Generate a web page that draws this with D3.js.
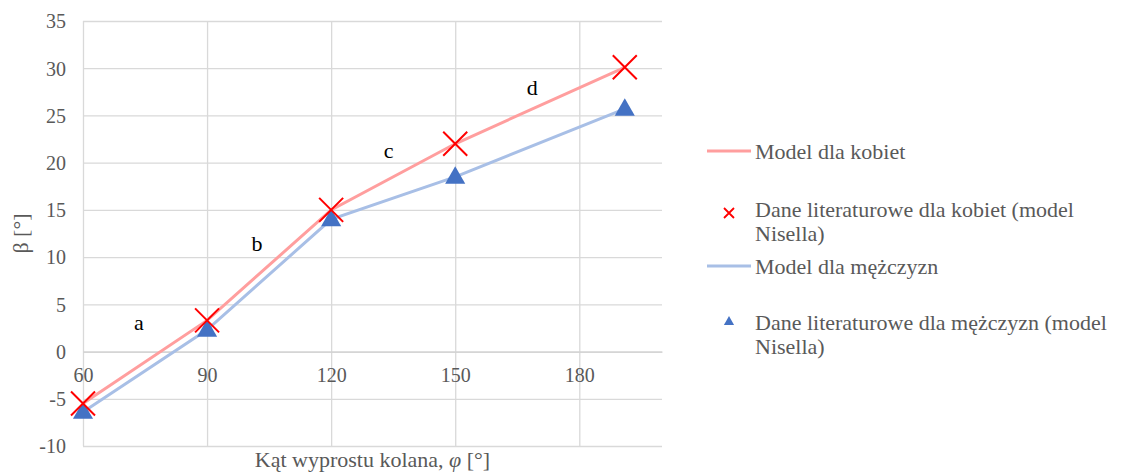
<!DOCTYPE html>
<html><head><meta charset="utf-8">
<script src="https://cdn.jsdelivr.net/npm/d3@7"></script>
<style>
html,body{margin:0;padding:0;background:#fff;}
svg{display:block;}
svg text{font-family:"Liberation Serif","DejaVu Serif",serif !important;}
</style></head>
<body><svg id="chart" width="1133" height="473"></svg>
<script>
// ---- data ----
const angles = [60, 90, 120, 150, 191];
const modelWomen = [-5.5, 3.3, 15.0, 22.0, 30.1];
const litWomen = [-5.5, 3.3, 15.0, 22.0, 30.1];
const modelMen = [-6.4, 2.3, 14.0, 18.5, 25.7];
const litMen = [-6.4, 2.3, 14.0, 18.5, 25.7];
const xTicks = [60, 90, 120, 150, 180];
const yTicks = [-10, -5, 0, 5, 10, 15, 20, 25, 30, 35];
const annLabels = ["a", "b", "c", "d"];
const annX = [73.5, 102.1, 133.9, 168.6];
const annY = [2.3, 10.7, 20.45, 27.2];
const legendLabels = [
  ["Model dla kobiet"],
  ["Dane literaturowe dla kobiet (model", "Nisella)"],
  ["Model dla mężczyzn"],
  ["Dane literaturowe dla mężczyzn (model", "Nisella)"]
];

// ---- layout ----
const FONT = "Liberation Serif";
const svg = d3.select("#chart");
const L = 83, R = 662, T = 21, B = 446;
const x = d3.scaleLinear().domain([60, 200]).range([L, R]);
const y = d3.scaleLinear().domain([-10, 35]).range([B, T]);
const grid = "#d9d9d9", txt = "#595959";
const redLine = "#ff9e9e", blueLine = "#a8bfe6", red = "#ff0000", blue = "#4472c4";

// gridlines
const yAxis = d3.axisLeft(y).tickValues(yTicks).tickSize(-(R - L)).tickFormat(d => d < 0 ? "-" + Math.abs(d) : d);
const gy = svg.append("g").attr("transform", `translate(${L},0)`).call(yAxis).attr("font-family", FONT);
gy.select(".domain").remove();
gy.selectAll(".tick line").attr("stroke", grid).attr("stroke-width", 1.3);
gy.selectAll(".tick text").attr("x", -17).attr("dy", "0.34em").attr("fill", txt)
  .attr("font-size", 20).attr("font-family", FONT);

const xGrid = d3.axisBottom(x).tickValues(xTicks).tickSize(-(B - T)).tickFormat("");
const gxg = svg.append("g").attr("transform", `translate(0,${B})`).call(xGrid);
gxg.select(".domain").remove();
gxg.selectAll(".tick line").attr("stroke", grid).attr("stroke-width", 1.3);

// x-axis at zero
const xAxis = d3.axisBottom(x).tickValues(xTicks).tickSize(0);
const gx = svg.append("g").attr("transform", `translate(0,${y(0)})`).call(xAxis).attr("font-family", FONT);
gx.select(".domain").attr("stroke", "#d0d0d0").attr("stroke-width", 1.3);
gx.selectAll(".tick text").attr("y", 30).attr("dy", 0).attr("fill", txt)
  .attr("font-size", 20).attr("font-family", FONT);

// axis titles
const xt = svg.append("text").attr("x", (L + R) / 2).attr("y", 467).attr("text-anchor", "middle")
  .attr("fill", txt).attr("font-size", 22).attr("font-family", FONT);
xt.append("tspan").text("Kąt wyprostu kolana, ");
xt.append("tspan").attr("font-style", "italic").text("φ");
xt.append("tspan").text(" [°]");

svg.append("text").attr("transform", `translate(28,${(T + B) / 2}) rotate(-90)`).attr("text-anchor", "middle")
  .attr("fill", txt).attr("font-size", 22).attr("font-family", FONT).text("β [°]");

// lines
const line = d3.line().x(d => x(d[0])).y(d => y(d[1]));
svg.append("path").datum(angles.map((a, i) => [a, modelWomen[i]])).attr("d", line)
  .attr("fill", "none").attr("stroke", redLine).attr("stroke-width", 3);
svg.append("path").datum(angles.map((a, i) => [a, modelMen[i]])).attr("d", line)
  .attr("fill", "none").attr("stroke", blueLine).attr("stroke-width", 3);

// markers
const tri = d3.symbol().type(d3.symbolTriangle).size(175);
svg.append("g").selectAll("path").data(angles.map((a, i) => [a, litMen[i]])).join("path")
  .attr("d", tri).attr("transform", d => `translate(${x(d[0])},${y(d[1]) + 1})`).attr("fill", blue);

const xs = 12;
const xg = svg.append("g").selectAll("g").data(angles.map((a, i) => [a, litWomen[i]])).join("g")
  .attr("transform", d => `translate(${x(d[0])},${y(d[1])})`);
xg.append("path").attr("d", `M${-xs},${-xs}L${xs},${xs}M${-xs},${xs}L${xs},${-xs}`)
  .attr("stroke", red).attr("stroke-width", 2).attr("fill", "none");

// annotations
svg.append("g").selectAll("text").data(annLabels).join("text")
  .attr("x", (d, i) => x(annX[i])).attr("y", (d, i) => y(annY[i])).attr("text-anchor", "middle")
  .attr("fill", "#000").attr("font-size", 22).attr("font-family", FONT).text(d => d);

// legend
const lg = svg.append("g");
const lx0 = 707, lx1 = 751, tx = 755;
const rowsY = [[151], [209, 233], [266], [322, 346]];
legendLabels.forEach((lines, i) => {
  lines.forEach((t, j) => {
    lg.append("text").attr("x", tx).attr("y", rowsY[i][j]).attr("dy", "0.35em").attr("fill", txt)
      .attr("font-size", 22).attr("font-family", FONT).text(t);
  });
});
lg.append("line").attr("x1", lx0).attr("x2", lx1).attr("y1", 151).attr("y2", 151).attr("stroke", redLine).attr("stroke-width", 3);
lg.append("line").attr("x1", lx0).attr("x2", lx1).attr("y1", 266).attr("y2", 266).attr("stroke", blueLine).attr("stroke-width", 3);
lg.append("path").attr("d", "M724,208L734,218M724,218L734,208").attr("stroke", red).attr("stroke-width", 1.8);
lg.append("path").attr("d", d3.symbol().type(d3.symbolTriangle).size(45)).attr("transform", "translate(729,322)").attr("fill", blue);
</script></body></html>
